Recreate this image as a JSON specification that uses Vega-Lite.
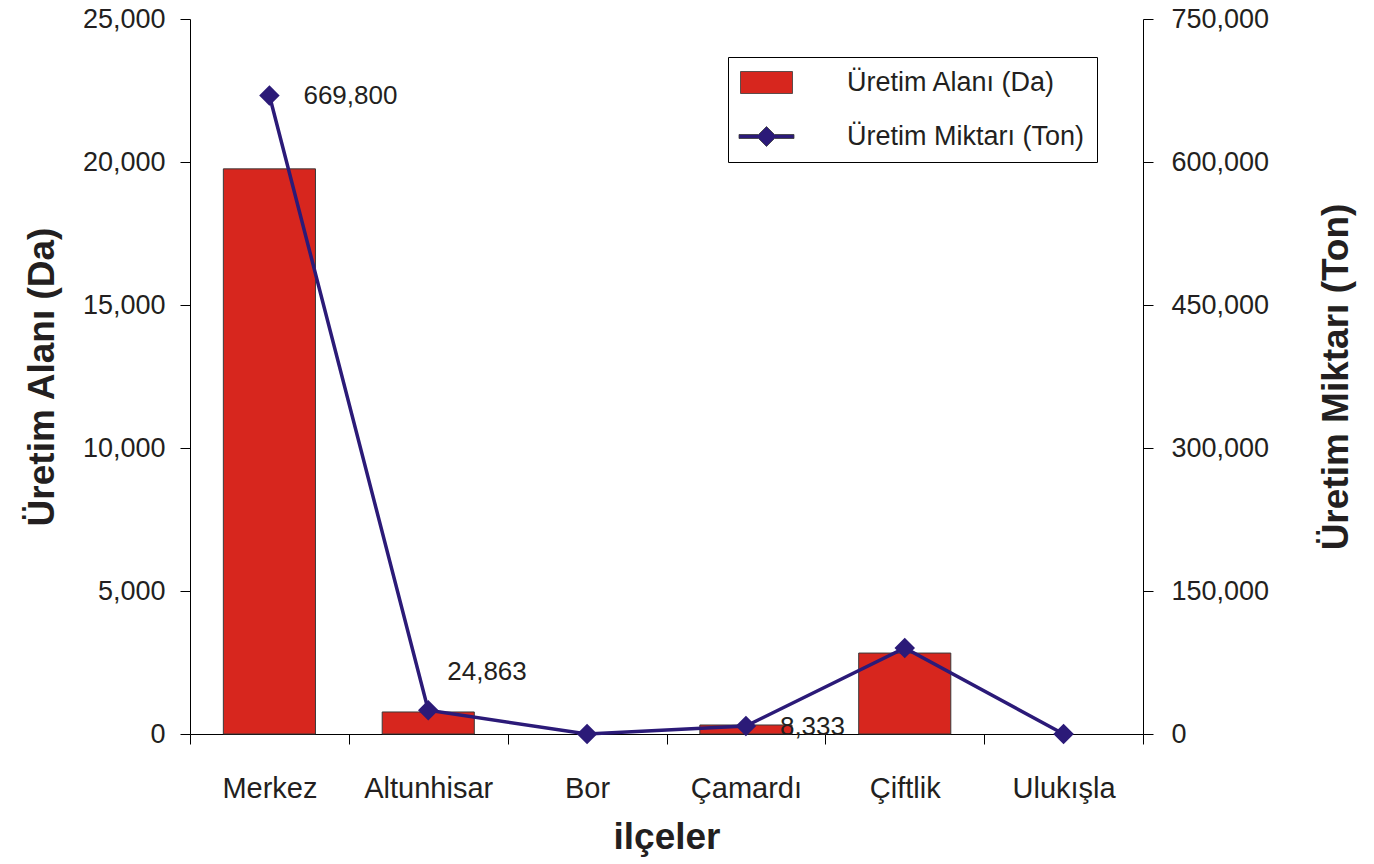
{
  "$schema": "https://vega.github.io/schema/vega-lite/v6.json",
  "width": 953,
  "height": 715,
  "autosize": {"type": "none"},
  "padding": {"left": 190, "top": 19, "right": 231, "bottom": 130},
  "background": "white",
  "config": {
    "font": "Liberation Sans",
    "view": {"stroke": null},
    "axis": {"grid": false, "domainColor": "#000", "tickColor": "#000", "labelColor": "#231f20", "titleColor": "#231f20", "labelFont": "Liberation Sans", "titleFont": "Liberation Sans", "domainWidth": 1, "tickWidth": 1}
  },
  "data": {"values": [
    {"ilce": "Merkez", "alan": 19760, "miktar": 669800},
    {"ilce": "Altunhisar", "alan": 770, "miktar": 24863},
    {"ilce": "Bor", "alan": 0, "miktar": 0},
    {"ilce": "Çamardı", "alan": 315, "miktar": 8333},
    {"ilce": "Çiftlik", "alan": 2830, "miktar": 90200},
    {"ilce": "Ulukışla", "alan": 0, "miktar": 0}
  ]},
  "encoding": {
    "x": {"field": "ilce", "type": "nominal", "sort": null,
      "scale": {"domain": ["Merkez", "Altunhisar", "Bor", "Çamardı", "Çiftlik", "Ulukışla"], "paddingInner": 0, "paddingOuter": 0},
      "axis": {"title": "ilçeler", "labelAngle": 0, "tickBand": "extent", "tickSize": 10, "labelPadding": 30, "labelFontSize": 29, "titleFontSize": 37, "titleFontWeight": "bold", "titlePadding": 16}}
  },
  "layer": [
    {
      "transform": [{"filter": "datum.alan > 0"}],
      "mark": {"type": "bar", "fill": "#d7261e", "stroke": "#3a3a3a", "strokeWidth": 1, "width": {"band": 0.58}, "opacity": 1},
      "encoding": {
        "y": {"field": "alan", "type": "quantitative", "scale": {"domain": [0, 25000]},
          "axis": {"title": "Üretim Alanı (Da)", "orient": "left", "values": [0, 5000, 10000, 15000, 20000, 25000], "format": ",.0f", "tickSize": 10, "labelPadding": 15, "labelFontSize": 27, "titleFontSize": 37, "titleFontWeight": "bold", "titlePadding": 21}}
      }
    },
    {
      "transform": [{"filter": "false"}],
      "mark": {"type": "point", "filled": true, "opacity": 1},
      "encoding": {
        "color": {"datum": "Üretim Alanı (Da)", "type": "nominal",
          "scale": {"domain": ["Üretim Alanı (Da)", "Üretim Miktarı (Ton)"], "range": ["#d7261e", "#2b1a78"]},
          "legend": {
            "title": null, "orient": "none", "legendX": 538, "legendY": 38,
            "strokeColor": "#000", "fillColor": "#fff", "padding": 12,
            "symbolSize": 400, "symbolOffset": 13, "labelOffset": 67, "symbolOpacity": 1,
            "labelFontSize": 27, "labelColor": "#231f20", "rowPadding": 26, "labelLimit": 500,
            "labelExpr": "datum.label + '\u00a0\u00a0'",
            "encode": {"symbols": {"update": {"stroke": {"value": "#3a3a3a"}, "strokeWidth": {"value": 0.8}}}}
          }},
        "shape": {"datum": "Üretim Alanı (Da)", "type": "nominal",
          "scale": {"domain": ["Üretim Alanı (Da)", "Üretim Miktarı (Ton)"], "range": ["M-2.6,-1.1L2.6,-1.1L2.6,1.1L-2.6,1.1Z", "M-2.75,-0.2L-0.8,-0.2L0,-1L0.8,-0.2L2.75,-0.2L2.75,0.2L0.8,0.2L0,1L-0.8,0.2L-2.75,0.2Z"]},
          "legend": {
            "title": null, "orient": "none", "legendX": 538, "legendY": 38,
            "strokeColor": "#000", "fillColor": "#fff", "padding": 12,
            "symbolSize": 400, "symbolOffset": 13, "labelOffset": 67, "symbolOpacity": 1,
            "labelFontSize": 27, "labelColor": "#231f20", "rowPadding": 26, "labelLimit": 500,
            "labelExpr": "datum.label + '\u00a0\u00a0'",
            "encode": {"symbols": {"update": {"stroke": {"value": "#3a3a3a"}, "strokeWidth": {"value": 0.8}}}}
          }}
      }
    },
    {
      "encoding": {
        "y": {"field": "miktar", "type": "quantitative", "scale": {"domain": [0, 750000]},
          "axis": {"title": "Üretim Miktarı (Ton)", "orient": "right", "values": [0, 150000, 300000, 450000, 600000, 750000], "format": ",.0f", "tickSize": 10, "labelPadding": 18, "labelFontSize": 27, "titleFontSize": 37, "titleFontWeight": "bold", "titlePadding": 87, "titleAngle": 270}}
      },
      "layer": [
        {"mark": {"type": "line", "color": "#2b1a78", "strokeWidth": 3.5}},
        {"mark": {"type": "point", "shape": "diamond", "filled": true, "color": "#2b1a78", "size": 420, "opacity": 1}},
        {
          "transform": [{"filter": "datum.ilce === 'Merkez' || datum.ilce === 'Çamardı'"}],
          "mark": {"type": "text", "align": "left", "baseline": "middle", "dx": 34, "dy": 1, "fontSize": 26, "color": "#231f20"},
          "encoding": {"text": {"field": "miktar", "type": "quantitative", "format": ","}}
        },
        {
          "transform": [{"filter": "datum.ilce === 'Altunhisar'"}],
          "mark": {"type": "text", "align": "left", "baseline": "middle", "dx": 19, "dy": -38, "fontSize": 26, "color": "#231f20"},
          "encoding": {"text": {"field": "miktar", "type": "quantitative", "format": ","}}
        }
      ]
    }
  ],
  "resolve": {"scale": {"y": "independent"}}
}
